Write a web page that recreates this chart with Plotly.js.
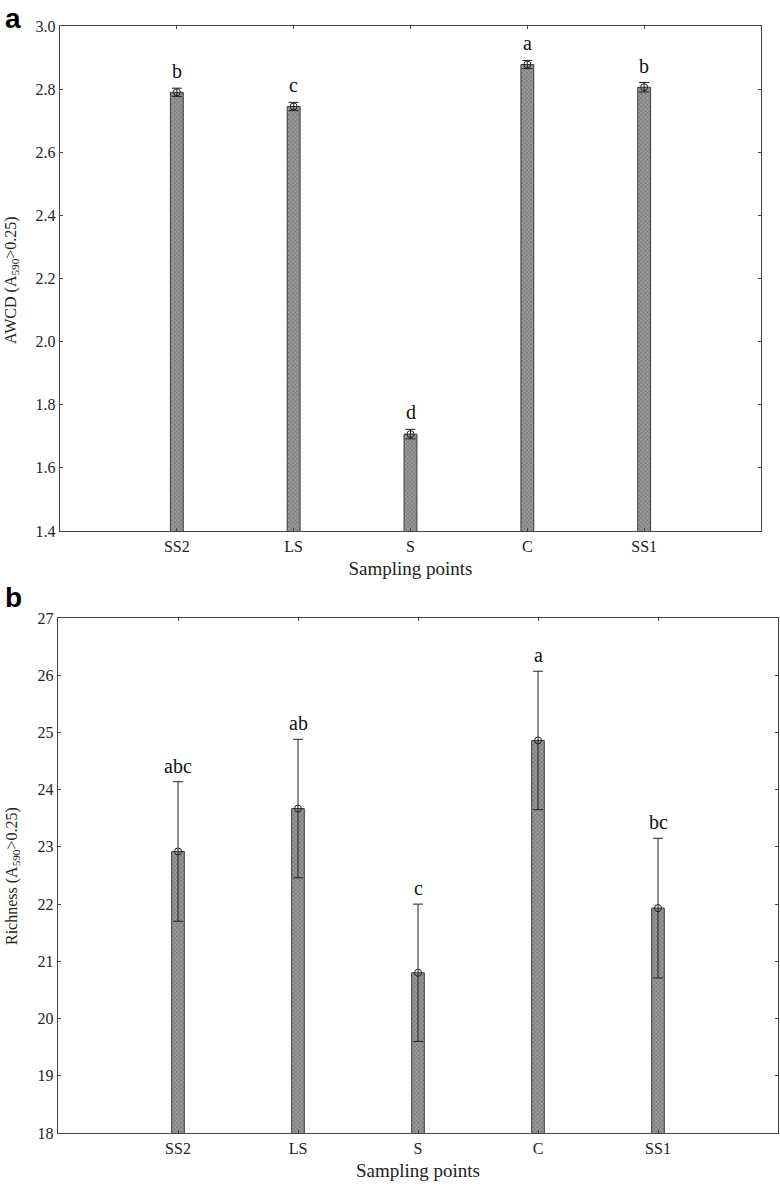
<!DOCTYPE html>
<html>
<head>
<meta charset="utf-8">
<script src="https://cdn.plot.ly/plotly-3.0.1.min.js"></script>
<style>html,body{margin:0;padding:0;background:#fff;}#chart{width:780px;height:1187px;}</style>
</head>
<body>
<div id="chart"></div>
<script>
var categories = ["SS2", "LS", "S", "C", "SS1"];
var awcdMean = [2.790, 2.745, 1.707, 2.878, 2.806];
var awcdErr = [0.013, 0.013, 0.015, 0.013, 0.015];
var awcdLetters = ["b", "c", "d", "a", "b"];
var richMean = [22.92, 23.67, 20.80, 24.86, 21.93];
var richErr = [1.22, 1.21, 1.20, 1.21, 1.22];
var richLetters = ["abc", "ab", "c", "a", "bc"];
var xTitle = "Sampling points";
var yTitleA = "AWCD (A<sub>590</sub>>0.25)";
var yTitleB = "Richness (A<sub>590</sub>>0.25)";

var serif = "Liberation Serif, Times New Roman, serif";
var barMarker = {
  color: "#8e8e8e",
  line: {color: "#3a3a3a", width: 1},
  pattern: {shape: "x", size: 3, solidity: 0.3, fgcolor: "#606060", bgcolor: "#9a9a9a"}
};

function barTrace(y, err, xa, ya, w) {
  return {
    type: "bar", x: categories, y: y, xaxis: xa, yaxis: ya,
    width: w, marker: barMarker, showlegend: false,
    error_y: {type: "data", array: err, visible: true, color: "#222", thickness: 1, width: 5}
  };
}
function ptTrace(y, xa, ya) {
  return {
    type: "scatter", mode: "markers", x: categories, y: y, xaxis: xa, yaxis: ya,
    marker: {symbol: "circle-open", size: 7, color: "#222", line: {width: 1}}, showlegend: false
  };
}

var data = [
  barTrace(awcdMean, awcdErr, "x", "y", 0.11),
  ptTrace(awcdMean, "x", "y"),
  barTrace(richMean, richErr, "x2", "y2", 0.105),
  ptTrace(richMean, "x2", "y2")
];

var H = 1187, W = 780;
function axX(domain, anchor) {
  return {
    domain: domain, anchor: anchor, type: "category", range: [-1, 5], showline: true, mirror: "ticks",
    linecolor: "#444", linewidth: 1.3, ticks: "inside", ticklen: 3, tickcolor: "#444",
    tickfont: {family: serif, size: 16, color: "#222"}, showgrid: false, zeroline: false,
    title: {text: xTitle, font: {family: serif, size: 19, color: "#222"}, standoff: 8}
  };
}
function axY(domain, range, dtick, fmt, anchor) {
  return {
    domain: domain, range: range, dtick: dtick, tick0: range[0], tickformat: fmt,
    showline: true, mirror: "ticks", linecolor: "#444", linewidth: 1.3,
    ticks: "inside", ticklen: 3, tickcolor: "#444", anchor: anchor,
    tickfont: {family: serif, size: 16, color: "#222"}, showgrid: false, zeroline: false
  };
}

var annotations = [];
for (var i = 0; i < categories.length; i++) {
  annotations.push({xref: "x", yref: "y", x: categories[i], y: awcdMean[i] + awcdErr[i],
    text: awcdLetters[i], showarrow: false, yanchor: "bottom", yshift: 4,
    font: {family: serif, size: 20, color: "#111"}});
  annotations.push({xref: "x2", yref: "y2", x: categories[i], y: richMean[i] + richErr[i],
    text: richLetters[i], showarrow: false, yanchor: "bottom", yshift: 3,
    font: {family: serif, size: 20, color: "#111"}});
}
annotations.push({xref: "paper", yref: "paper", x: 12 / W, y: 1 - 280 / H, text: yTitleA,
  textangle: -90, xanchor: "center", yanchor: "middle", showarrow: false,
  font: {family: serif, size: 16, color: "#222"}});
annotations.push({xref: "paper", yref: "paper", x: 12 / W, y: 1 - 876 / H, text: yTitleB,
  textangle: -90, xanchor: "center", yanchor: "middle", showarrow: false,
  font: {family: serif, size: 16, color: "#222"}});
annotations.push({xref: "paper", yref: "paper", x: 13 / W, y: 1 - 18 / H, text: "<b>a</b>",
  xanchor: "center", yanchor: "middle", showarrow: false,
  font: {family: "Liberation Sans, Arial, sans-serif", size: 28, color: "#000"}});
annotations.push({xref: "paper", yref: "paper", x: 13 / W, y: 1 - 598 / H, text: "<b>b</b>",
  xanchor: "center", yanchor: "middle", showarrow: false,
  font: {family: "Liberation Sans, Arial, sans-serif", size: 28, color: "#000"}});

var layout = {
  width: W, height: H, margin: {l: 0, r: 0, t: 0, b: 0},
  paper_bgcolor: "#fff", plot_bgcolor: "#fff", showlegend: false, bargap: 0,
  xaxis: axX([60 / W, 761 / W], "y"),
  yaxis: axY([(H - 531) / H, (H - 26) / H], [1.4, 3.0], 0.2, ".1f", "x"),
  xaxis2: axX([58 / W, 778 / W], "y2"),
  yaxis2: axY([(H - 1133) / H, (H - 618) / H], [18, 27], 1, "d", "x2"),
  annotations: annotations
};

Plotly.newPlot("chart", data, layout, {displayModeBar: false, staticPlot: true});
</script>
</body>
</html>
